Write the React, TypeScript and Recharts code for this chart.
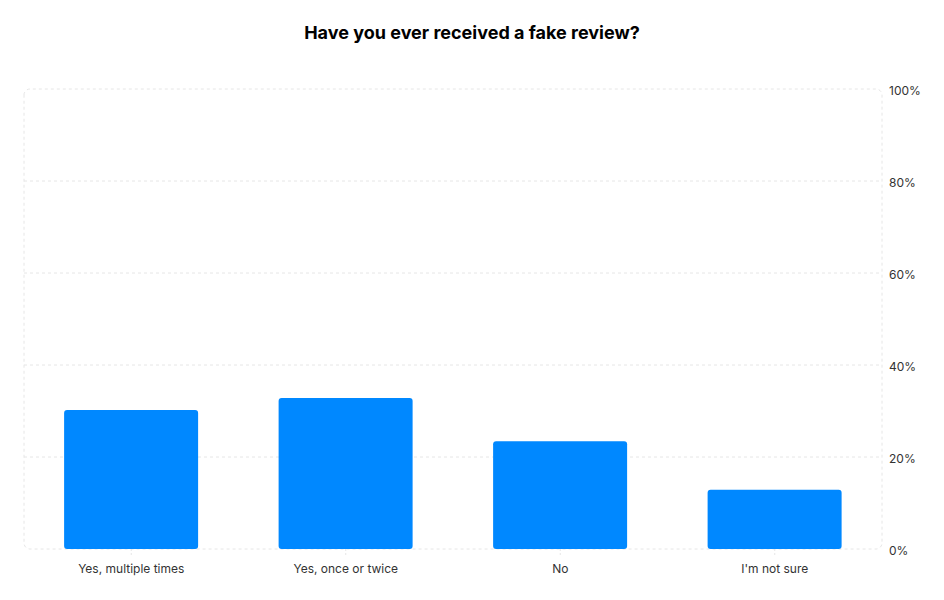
import { Bar, BarChart, CartesianGrid, ReferenceArea, XAxis, YAxis } from 'recharts';

const title = 'Have you ever received a fake review?';
const answers = ['Yes, multiple times', 'Yes, once or twice', 'No', "I'm not sure"];
const shares = [30.2, 32.8, 23.4, 12.9];
const yTicks = [0, 20, 40, 60, 80, 100];
const gridLines = [20, 40, 60, 80];

const data = answers.map((answer, i) => ({ answer, share: shares[i] }));

const font = 'Inter, "Noto Sans", sans-serif';
const gridColor = '#e6e6e6';

export default function App() {
  return (
    <div style={{ position: 'absolute', left: 0, top: 0, width: 944, height: 600, background: '#fff', fontFamily: font }}>
      <div
        style={{
          position: 'absolute',
          top: 22,
          left: 0,
          width: 944,
          textAlign: 'center',
          fontSize: 18,
          fontWeight: 700,
          color: '#000',
        }}
      >
        {title}
      </div>
      <BarChart
        width={944}
        height={600}
        data={data}
        margin={{ top: 89, right: 6, left: 24, bottom: 21 }}
        barCategoryGap="18.7%"
      >
        <CartesianGrid
          horizontalValues={gridLines}
          vertical={false}
          stroke={gridColor}
          strokeDasharray="3 3"
        />
        <ReferenceArea
          y1={0}
          y2={100}
          fill="none"
          stroke={gridColor}
          strokeDasharray="3 3"
          radius={6}
          isAnimationActive={false}
        />
        <XAxis
          dataKey="answer"
          axisLine={false}
          tickLine={{ stroke: gridColor, strokeDasharray: '2 2' }}
          tickSize={6}
          tickMargin={9}
          height={30}
          tick={{ fontSize: 12, fill: '#333', fontFamily: font }}
        />
        <YAxis
          orientation="right"
          domain={[0, 100]}
          ticks={yTicks}
          width={56}
          axisLine={false}
          tickLine={false}
          tickMargin={1}
          tickFormatter={(v) => `${v}%`}
          tick={{ fontSize: 12, fill: '#333', fontFamily: font, dy: 2 }}
        />
        <Bar dataKey="share" fill="#0088ff" radius={3} isAnimationActive={false} />
      </BarChart>
    </div>
  );
}
